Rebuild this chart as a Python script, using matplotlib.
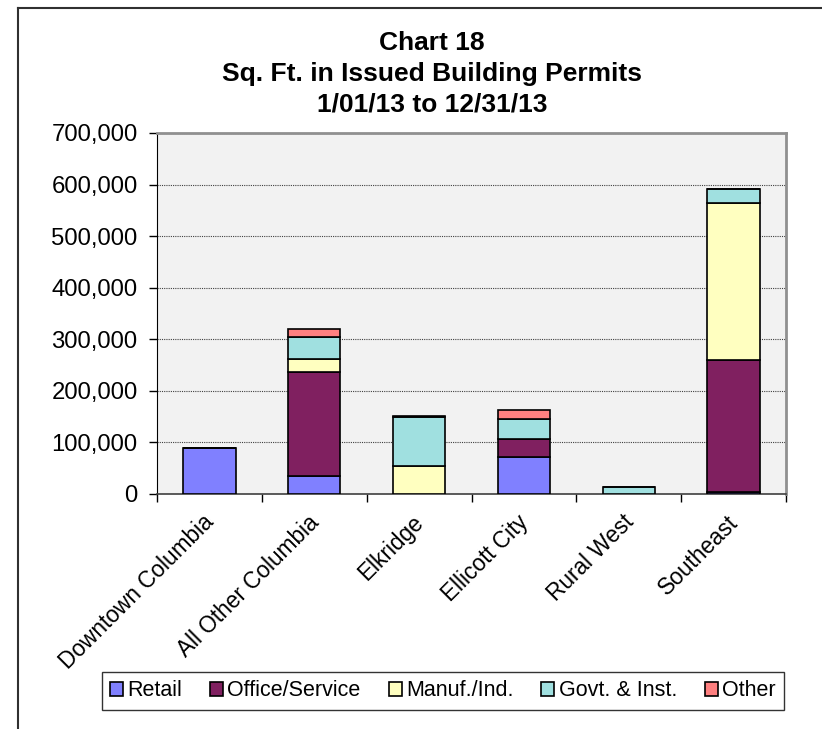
import matplotlib
matplotlib.use("Agg")
import matplotlib.pyplot as plt
import matplotlib.transforms as mtransforms
import numpy as np
from matplotlib.lines import Line2D
from matplotlib.ticker import FuncFormatter, MultipleLocator

plt.rcParams['font.family'] = ['Liberation Sans', 'DejaVu Sans']

areas = ["Downtown Columbia", "All Other Columbia", "Elkridge",
         "Ellicott City", "Rural West", "Southeast"]
retail = [90000, 35000, 0, 71000, 0, 4000]
office = [0, 201000, 0, 35000, 0, 256000]
manuf = [0, 25000, 54000, 0, 0, 304000]
govt = [0, 43000, 96000, 39000, 13000, 27000]
other = [0, 15000, 1000, 18000, 0, 0]

series = [("Retail", retail, "#8080FF"),
          ("Office/Service", office, "#802060"),
          ("Manuf./Ind.", manuf, "#FFFFC0"),
          ("Govt. & Inst.", govt, "#A0E0E0"),
          ("Other", other, "#FF8080")]

W, H = 822, 729
fig = plt.figure(figsize=(W / 100, H / 100), dpi=100)
ax = fig.add_axes([157 / W, 1 - 494 / H, (786 - 157) / W, (494 - 133) / H])
ax.set_facecolor("#F2F2F2")

x = np.arange(len(areas))
bottom = np.zeros(len(areas))
for name, vals, col in series:
    vals = np.array(vals, dtype=float)
    ax.bar(x, vals, 0.5, bottom=bottom, color=col, edgecolor="black",
           linewidth=1.2, label=name, zorder=3)
    bottom += vals

ax.set_ylim(0, 700000)
ax.set_xlim(-0.5, len(areas) - 0.5)
ax.yaxis.set_major_locator(MultipleLocator(100000))
ax.yaxis.set_major_formatter(FuncFormatter(lambda v, p: "{:,.0f}".format(v)))
ax.grid(axis="y", color="#404040", linestyle=(0, (1, 1)), linewidth=0.8, zorder=1)

ax.set_xticks(x)
ax.set_xticklabels(areas, rotation=45, ha="right", rotation_mode="anchor")
ax.set_xticks(np.arange(-0.5, len(areas)), minor=True)
ax.tick_params(axis="x", which="major", length=0, pad=12, labelsize=16.3)
ax.tick_params(axis="x", which="minor", length=6, width=1, color="black")
ax.tick_params(axis="y", length=6, width=1, pad=8, labelsize=17.2)
# nudge the slanted category names a little to the left
shift = mtransforms.ScaledTranslation(-7 / 100, 0, fig.dpi_scale_trans)
for lab in ax.get_xticklabels():
    lab.set_transform(lab.get_transform() + shift)

for side in ("top", "right"):
    ax.spines[side].set_color("#909090")
    ax.spines[side].set_linewidth(2)
ax.spines["left"].set_color("black")
ax.spines["bottom"].set_color("#404040")
ax.spines["bottom"].set_linewidth(1.2)

fig.text(432 / W, 1 - 74 / H,
         "Chart 18\nSq. Ft. in Issued Building Permits\n1/01/13 to 12/31/13",
         ha="center", va="center", fontsize=19, fontweight="bold",
         linespacing=1.35)

leg = fig.legend(loc="center", bbox_to_anchor=(443 / W, 1 - 691 / H), ncol=5,
                 fontsize=15.5, frameon=True, fancybox=False,
                 handlelength=0.6, handleheight=0.6, handletextpad=0.2,
                 columnspacing=1.3, borderpad=0.4)
leg.get_frame().set_edgecolor("black")
leg.get_frame().set_linewidth(1.0)

# outer chart frame
fig.add_artist(Line2D([18 / W, 18 / W], [0, 1 - 8 / H], transform=fig.transFigure,
                      color="#303030", linewidth=1.5))
fig.add_artist(Line2D([18 / W, 1], [1 - 8 / H, 1 - 8 / H], transform=fig.transFigure,
                      color="#303030", linewidth=1.5))

fig.savefig("out.png", dpi=100)
